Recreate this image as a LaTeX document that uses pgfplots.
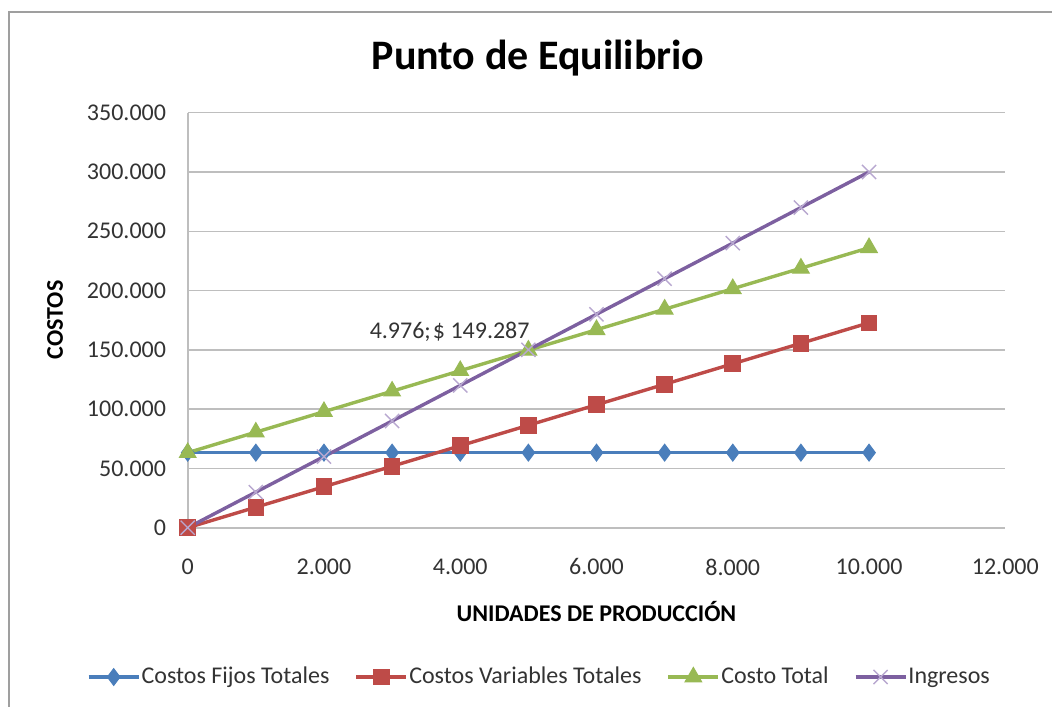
\documentclass[border=0pt]{standalone}
\usepackage{pgfplots}
\pgfplotsset{compat=1.18}
\usepackage{fontspec}
\setmainfont{Carlito}
\definecolor{cblue}{HTML}{4A7EBB}
\definecolor{cred}{HTML}{BE4B48}
\definecolor{cgreen}{HTML}{98B954}
\definecolor{cpurple}{HTML}{7D60A0}
\definecolor{cpurplel}{HTML}{B8A8D0}
\definecolor{gridc}{HTML}{BEBEBE}
\definecolor{txt}{HTML}{333333}
\begin{document}
\begin{tikzpicture}
\useasboundingbox (-93.85pt,-89.15pt) rectangle (432.15pt,263.85pt);
\draw[gray!75, line width=1.2pt] (-89.35pt,-95pt) -- (-89.35pt,257.85pt) -- (440pt,257.85pt);
\begin{axis}[
  scale only axis,
  width=408.8pt, height=207.5pt,
  xmin=0, xmax=12000, ymin=0, ymax=350000,
  xtick={0,2000,4000,6000,8000,10000,12000},
  xticklabels={0,{2.000},{4.000},{6.000},{8.000},{10.000},{12.000}},
  ytick={0,50000,100000,150000,200000,250000,300000,350000},
  yticklabels={0,{50.000},{100.000},{150.000},{200.000},{250.000},{300.000},{350.000}},
  scaled ticks=false,
  axis x line*=bottom, axis y line*=left,
  axis line style={draw=gridc, line width=0.8pt},
  major tick length=0pt,
  ymajorgrids, grid style={draw=gridc, line width=0.7pt},
  tick label style={font=\fontsize{12}{14}\selectfont, text=txt},
  yticklabel style={xshift=-7.3pt},
  xticklabel style={yshift=-12pt},
  xlabel={UNIDADES DE PRODUCCIÓN},
  ylabel={COSTOS},
  label style={font=\bfseries\fontsize{12}{14}\selectfont, text=black},
  xlabel style={at={(axis description cs:0.5,-0.2031)}, anchor=center},
  ylabel style={at={(axis description cs:-0.1623,0.5005)}, anchor=center},
  legend columns=4,
  legend style={draw=none, fill=none, at={(axis description cs:0.4297,-0.3598)}, anchor=center,
    font=\fontsize{12}{14}\selectfont, text=txt,
    nodes={inner sep=0.6pt},
    /tikz/every even column/.append style={column sep=12pt},
    inner sep=0pt},
  legend cell align=left,
  legend image code/.code={\draw[mark repeat=2,mark phase=2] plot coordinates {(0pt,0pt) (12.5pt,0pt) (25pt,0pt)};},
  clip=false,
]
\addplot[cblue, line width=1.7pt, mark=diamond*, mark size=4.2pt, mark options={fill=cblue, line width=0.5pt}]
coordinates {(0,63295) (1000,63295) (2000,63295) (3000,63295) (4000,63295) (5000,63295) (6000,63295) (7000,63295) (8000,63295) (9000,63295) (10000,63295)};
\addlegendentry{Costos Fijos Totales}
\addplot[cred, line width=1.7pt, mark=square*, mark size=3.9pt, mark options={fill=cred, line width=0.5pt}]
coordinates {(0,0) (1000,17280) (2000,34560) (3000,51840) (4000,69120) (5000,86400) (6000,103680) (7000,120960) (8000,138240) (9000,155520) (10000,172800)};
\addlegendentry{Costos Variables Totales}
\addplot[cgreen, line width=1.7pt, mark=triangle*, mark size=4.8pt, mark options={fill=cgreen, line width=0.5pt}]
coordinates {(0,63295) (1000,80575) (2000,97855) (3000,115135) (4000,132415) (5000,149695) (6000,166975) (7000,184255) (8000,201535) (9000,218815) (10000,236095)};
\addlegendentry{Costo Total}
\addplot[cpurple, line width=1.7pt, mark=x, mark size=5pt, mark options={draw=cpurplel, line width=0.7pt}]
coordinates {(0,0) (1000,30000) (2000,60000) (3000,90000) (4000,120000) (5000,150000) (6000,180000) (7000,210000) (8000,240000) (9000,270000) (10000,300000)};
\addlegendentry{Ingresos}
\node[anchor=base east, inner sep=0pt, xshift=1.6pt, yshift=5.9pt, text=txt, font=\fontsize{12}{14}\selectfont] at (axis cs:4976,149287) {4.976;\kern1pt\textdollar\ 149.287};
\node[anchor=base, font=\bfseries\fontsize{21}{25}\selectfont] at (axis description cs:0.4285,1.1053) {Punto de Equilibrio};
\end{axis}
\end{tikzpicture}
\end{document}
